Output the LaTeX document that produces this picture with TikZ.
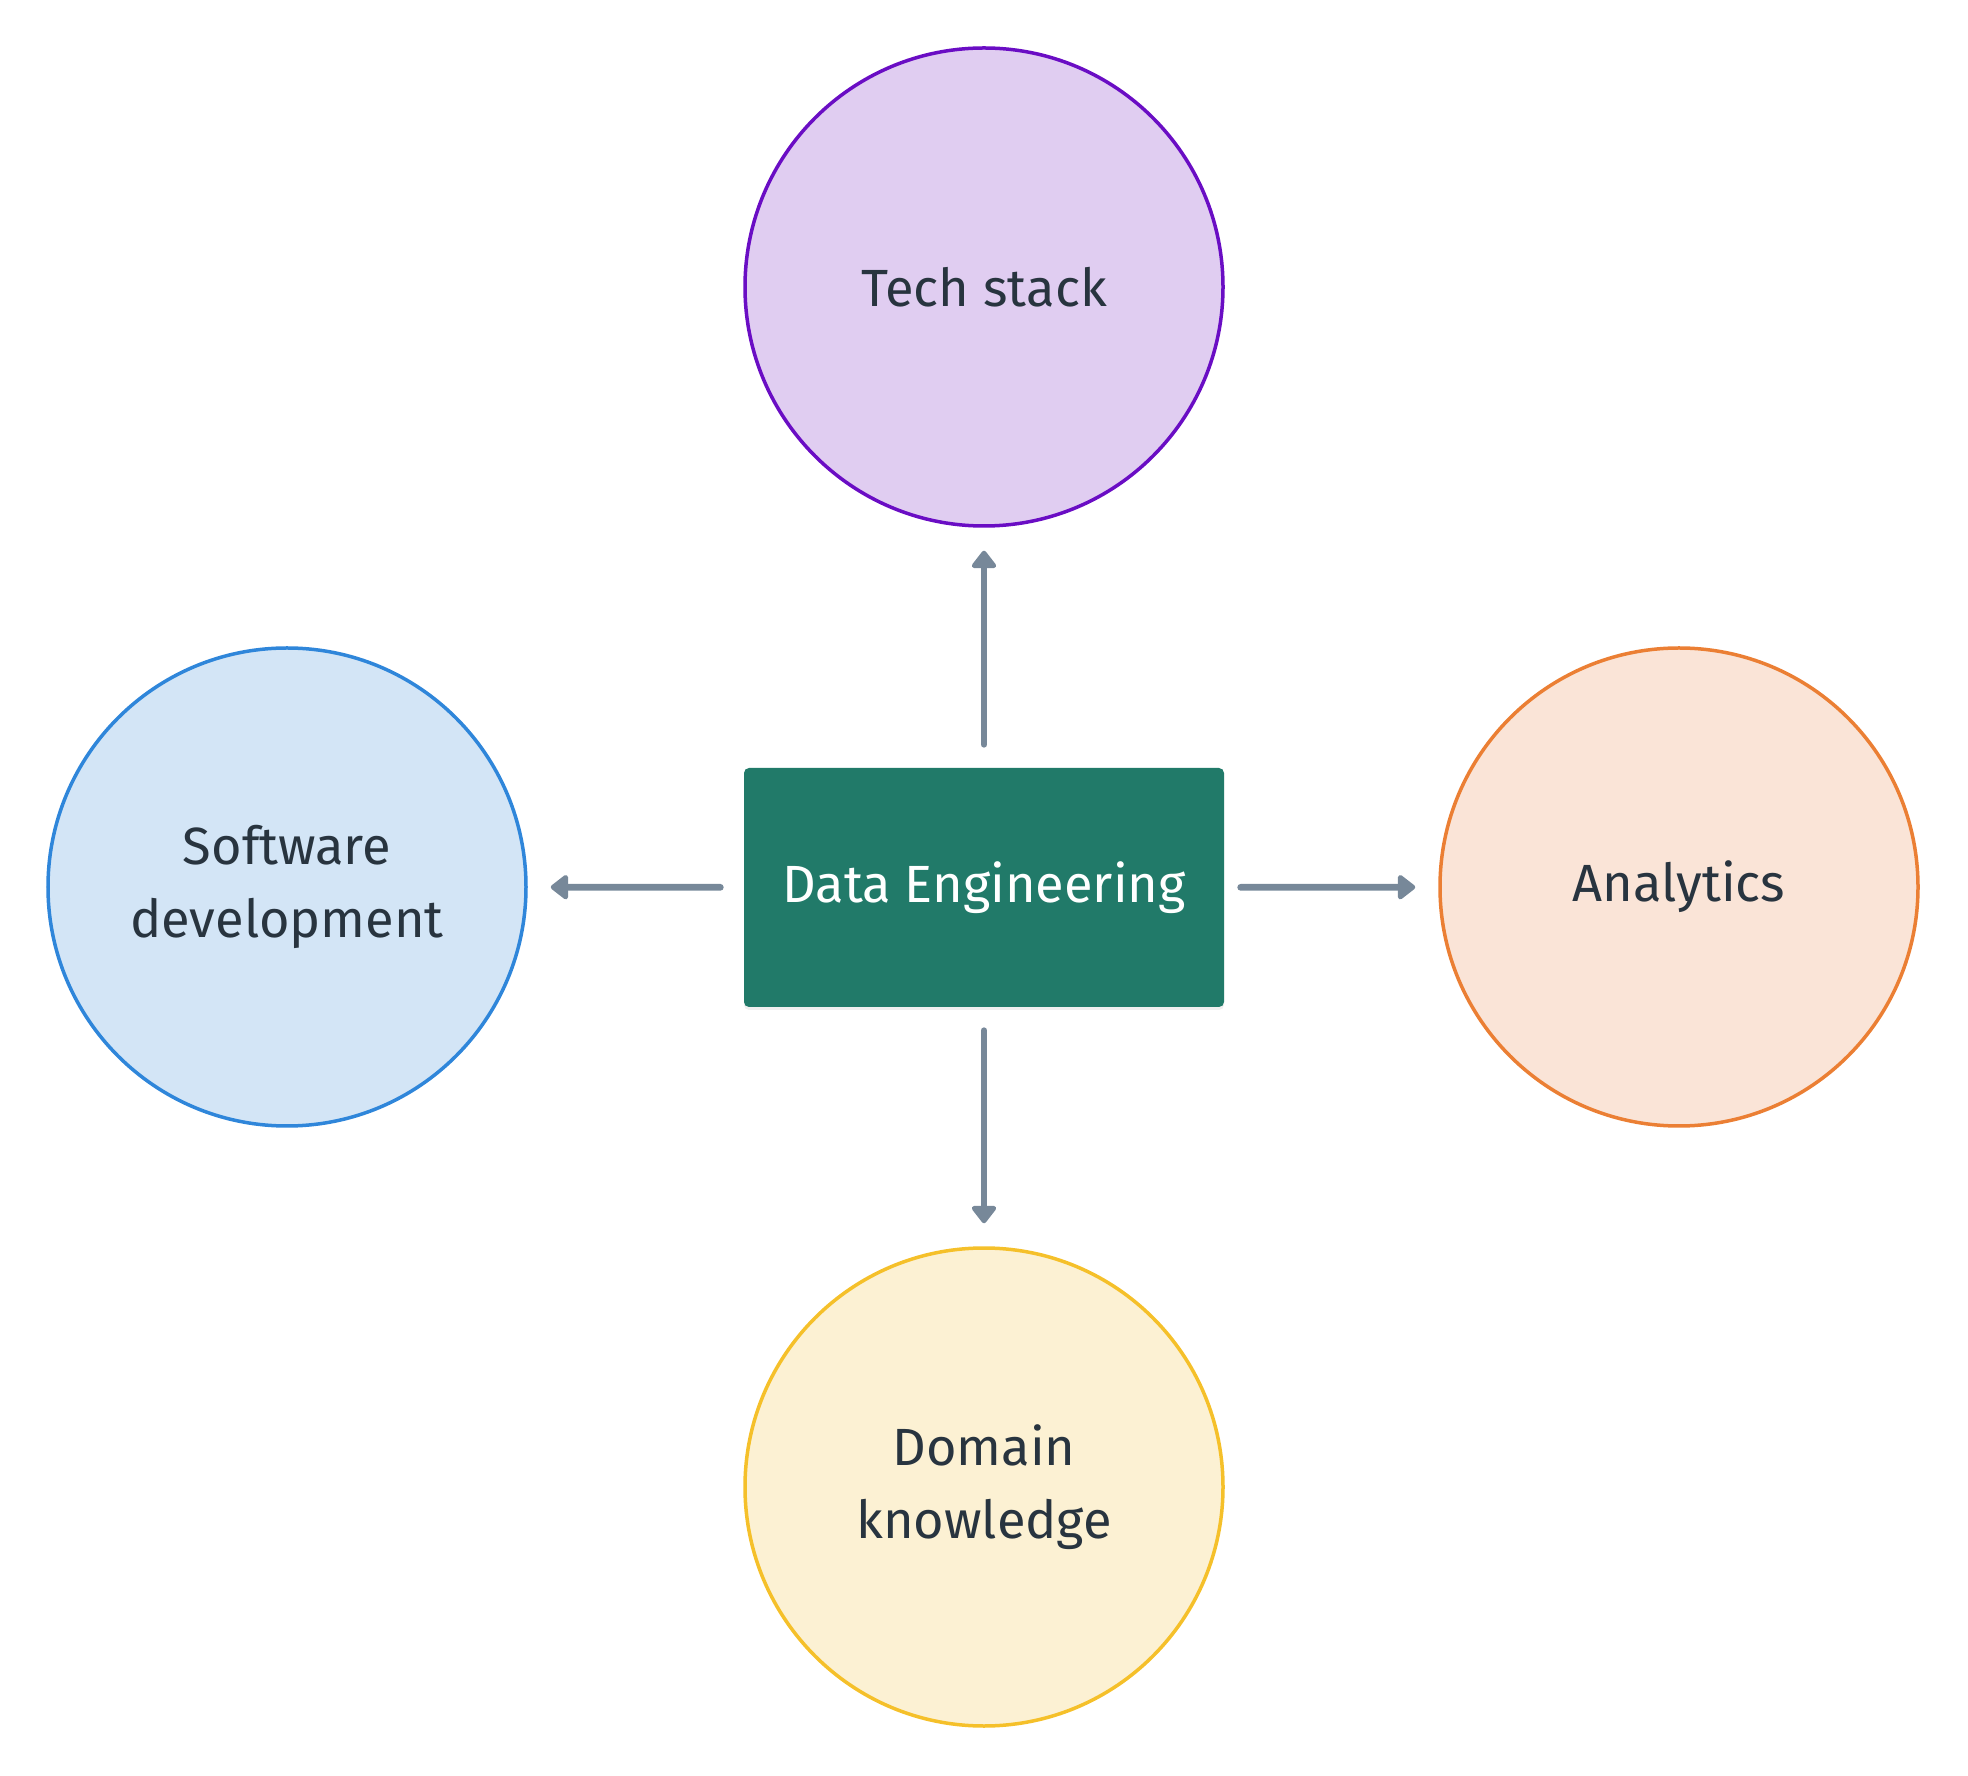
\documentclass[tikz,border=0pt]{standalone}
\usepackage{fontspec}
\setmainfont{Fira Sans}
\usetikzlibrary{arrows.meta,shadows}

\definecolor{inkdark}{HTML}{28343F}
\definecolor{arrowgray}{HTML}{778899}
\definecolor{degreen}{HTML}{217A69}
\definecolor{techfill}{HTML}{E0CDF1}
\definecolor{techline}{HTML}{6A0DC4}
\definecolor{softfill}{HTML}{D3E5F6}
\definecolor{softline}{HTML}{2F86DA}
\definecolor{anafill}{HTML}{FAE4D7}
\definecolor{analine}{HTML}{EB7F34}
\definecolor{domfill}{HTML}{FCF1D3}
\definecolor{domline}{HTML}{F5C02A}

\tikzset{
	    topic/.style={
					circle,
					minimum size=4.78cm,
					inner sep=0pt,
					line width=0.035cm,
					align=center,
					text=inkdark,
					font=\fontsize{14.9}{20.6}\selectfont
	    },
	    hub/.style={
					rectangle,
					rounded corners=0.05cm,
					minimum width=4.80cm,
					minimum height=2.39cm,
					fill=degreen,
					text=white,
					font=\fontsize{14.9}{20.6}\selectfont,
					drop shadow={opacity=0.12, shadow xshift=0cm, shadow yshift=-0.03cm}
	    },
	    conn/.style={
					draw=arrowgray,
					line width=0.068cm,
					line cap=round,
					-{Triangle[width=0.28cm, length=0.19cm, round]},
					shorten <=0.23cm,
					shorten >=0.23cm
	    }
		}

\begin{document}
\begin{tikzpicture}
			\useasboundingbox (0,0) rectangle (19.68,-17.76);

			\node[hub] (de) at (9.84,-8.875) {Data Engineering};

			\node[topic, fill=techfill, draw=techline] (tech) at (9.84,-2.87) {Tech stack};
			\node[topic, fill=softfill, draw=softline] (soft) at (2.87,-8.87) {Software\\development};
			\node[topic, fill=anafill, draw=analine] (ana) at (16.79,-8.87) {Analytics};
			\node[topic, fill=domfill, draw=domline] (dom) at (9.84,-14.87) {Domain\\knowledge};

			\draw[conn] (de) to (tech);
			\draw[conn] (de) to (soft);
			\draw[conn, shorten <=0.16cm] (de) to (ana);
			\draw[conn] (de) to (dom);
		\end{tikzpicture}
\end{document}
